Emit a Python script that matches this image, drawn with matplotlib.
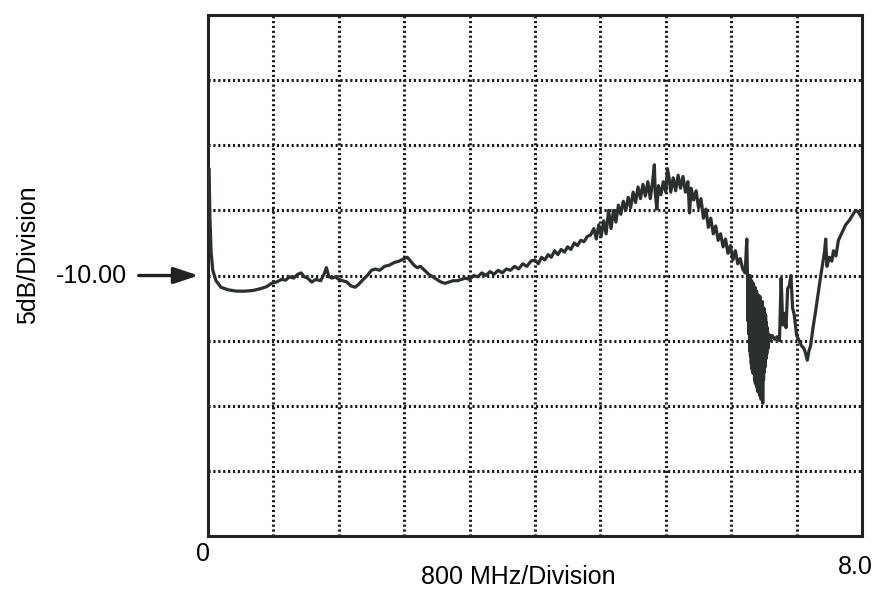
import numpy as np
import matplotlib
matplotlib.use("Agg")
import matplotlib.pyplot as plt

plt.rcParams['font.family'] = ['Liberation Sans Narrow', 'Liberation Sans', 'DejaVu Sans']

# swept response: frequency (GHz) and level (dB)
freq_ghz = [
    0.00, 0.015, 0.025, 0.04, 0.06, 0.10, 0.16, 0.25, 0.35, 0.45, 0.55, 0.65, 0.72, 0.78, 0.84,
    0.90, 0.95, 1.00, 1.05, 1.10, 1.14, 1.18, 1.22, 1.27, 1.32, 1.38, 1.42, 1.45, 1.48, 1.52,
    1.56, 1.60, 1.65, 1.70, 1.75, 1.80, 1.84, 1.90, 1.95, 2.00, 2.05, 2.10, 2.16, 2.22, 2.28,
    2.34, 2.40, 2.44, 2.48, 2.52, 2.56, 2.60, 2.65, 2.70, 2.75, 2.80, 2.85, 2.90, 2.95, 3.00,
    3.05, 3.10, 3.15, 3.20, 3.25, 3.30, 3.35, 3.40, 3.45, 3.50, 3.55, 3.60, 3.65, 3.70, 3.75,
    3.80, 3.85, 3.90, 3.95, 4.00, 4.04, 4.08, 4.12, 4.16, 4.20, 4.24, 4.28, 4.32, 4.36, 4.40,
    4.44, 4.48, 4.52, 4.56, 4.60, 4.64, 4.68, 4.72, 4.75, 4.78, 4.81, 4.84, 4.87, 4.90, 4.93,
    4.96, 4.99, 5.02, 5.05, 5.08, 5.11, 5.14, 5.17, 5.20, 5.23, 5.26, 5.29, 5.32, 5.35, 5.38,
    5.41, 5.44, 5.46, 5.47, 5.49, 5.51, 5.54, 5.57, 5.60, 5.62, 5.64, 5.66, 5.69, 5.72, 5.75,
    5.78, 5.81, 5.84, 5.87, 5.89, 5.91, 5.94, 5.97, 6.00, 6.03, 6.06, 6.09, 6.12, 6.15, 6.18,
    6.21, 6.24, 6.27, 6.30, 6.33, 6.36, 6.39, 6.42, 6.45, 6.48, 6.51, 6.54, 6.57, 6.59, 6.60,
    6.605, 6.61, 6.615, 6.62, 6.625, 6.63, 6.635, 6.64, 6.645, 6.65, 6.655, 6.66, 6.665, 6.67,
    6.675, 6.68, 6.685, 6.69, 6.695, 6.70, 6.705, 6.71, 6.715, 6.72, 6.725, 6.73, 6.735, 6.74,
    6.745, 6.75, 6.755, 6.76, 6.765, 6.77, 6.775, 6.78, 6.785, 6.79, 6.795, 6.80, 6.805, 6.81,
    6.815, 6.82, 6.825, 6.83, 6.835, 6.84, 6.85, 6.86, 6.87, 6.90, 6.93, 6.96, 6.99, 7.01,
    7.03, 7.05, 7.07, 7.09, 7.11, 7.13, 7.15, 7.17, 7.20, 7.23, 7.26, 7.29, 7.31, 7.33, 7.35,
    7.37, 7.40, 7.43, 7.46, 7.49, 7.52, 7.54, 7.555, 7.57, 7.60, 7.63, 7.65, 7.68, 7.71, 7.74,
    7.77, 7.80, 7.84, 7.88, 7.92, 7.95, 7.98, 8.00,
]
level_db = [
    -2.0, -1.8, -5.5, -8.2, -9.6, -10.4, -10.9, -11.1, -11.2, -11.2, -11.15, -11.0, -10.85, -10.6, -10.5,
    -10.3, -10.35, -10.1, -10.2, -9.9, -9.8, -10.1, -10.2, -10.5, -10.3, -10.4, -9.9, -9.4, -10.1, -10.2,
    -10.1, -10.3, -10.4, -10.5, -10.8, -10.9, -10.7, -10.3, -10.0, -9.6, -9.5, -9.6, -9.3, -9.2, -9.0,
    -8.9, -8.7, -8.6, -8.9, -9.2, -9.4, -9.3, -9.6, -9.9, -10.1, -10.3, -10.5, -10.6, -10.5, -10.4,
    -10.4, -10.3, -10.2, -10.3, -10.0, -10.1, -9.8, -10.0, -9.7, -9.9, -9.6, -9.8, -9.5, -9.6, -9.3,
    -9.5, -9.1, -9.3, -8.9, -8.8, -9.1, -8.6, -8.8, -8.4, -8.6, -8.1, -8.4, -8.0, -8.2, -7.8,
    -8.0, -7.5, -7.7, -7.3, -7.4, -7.0, -6.9, -6.4, -7.2, -6.1, -7.0, -5.8, -6.8, -5.0, -6.4,
    -5.0, -5.9, -4.6, -5.3, -4.3, -5.0, -4.0, -4.8, -3.6, -4.4, -3.2, -4.1, -3.0, -3.9, -2.8,
    -4.1, -2.7, -1.5, -3.6, -4.9, -3.1, -3.8, -2.8, -3.6, -1.8, -2.5, -3.6, -2.5, -3.5, -2.3,
    -3.3, -2.4, -3.6, -2.8, -5.2, -3.3, -4.2, -3.5, -4.8, -4.1, -5.6, -4.9, -6.3, -5.6, -6.8,
    -6.2, -7.3, -6.8, -7.8, -7.2, -8.3, -7.7, -8.8, -8.1, -9.1, -8.7, -9.5, -9.8, -7.2, -10.5,
    -13.5, -10.2, -14.5, -10.8, -15.8, -10.0, -16.2, -11.0, -16.8, -10.4, -17.2, -11.5, -17.5, -10.6,
    -17.0, -11.8, -18.0, -10.9, -18.3, -12.0, -17.6, -11.2, -18.6, -12.4, -18.9, -11.5, -18.2, -12.8,
    -19.2, -11.6, -18.8, -12.2, -19.5, -12.6, -18.4, -12.0, -19.8, -13.0, -18.0, -12.5, -17.4, -13.4,
    -17.0, -13.0, -16.4, -13.6, -16.0, -14.0, -15.6, -14.5, -15.0, -14.6, -14.9, -14.7, -15.0, -10.2,
    -13.8, -12.9, -14.0, -11.0, -10.8, -10.0, -12.5, -13.0, -14.6, -15.0, -15.4, -15.6, -16.0, -16.5, -15.8,
    -15.4, -14.0, -12.8, -11.5, -10.2, -9.0, -8.2, -7.2, -9.3, -8.6, -8.9, -8.1, -8.5, -7.3, -6.9,
    -6.5, -6.1, -5.8, -5.4, -5.0, -5.1, -5.4, -5.6,
]

ref_level = -10.0
db_per_div = 5
mhz_per_div = 800
n_xdiv, n_ydiv = 10, 8

fig = plt.figure(figsize=(8.77, 5.97), dpi=100)
ax = fig.add_axes([0.237, 0.102, 0.746, 0.873])

ytop = ref_level + db_per_div * n_ydiv / 2
ybot = ref_level - db_per_div * n_ydiv / 2
xmax = mhz_per_div * n_xdiv / 1000
ax.set_xlim(0, xmax)
ax.set_ylim(ybot, ytop)

# dotted graticule
for i in range(1, n_xdiv):
    ax.axvline(i * xmax / n_xdiv, color='#1a1a1a', lw=2.2, ls=(0, (0.7, 0.9)), zorder=1)
for j in range(1, n_ydiv):
    ax.axhline(ybot + j * db_per_div, color='#1a1a1a', lw=2.2, ls=(0, (0.7, 0.9)), zorder=1)

ax.plot(freq_ghz, level_db, color='#2b302d', lw=2.3, zorder=3)

ax.set_xticks([])
ax.set_yticks([])
for s in ax.spines.values():
    s.set_linewidth(2.2)
    s.set_color('#222222')

fs = 18
ax.text(-0.008, -0.012, '0', transform=ax.transAxes, ha='center', va='top', fontsize=fs)
ax.text(0.989, -0.036, '8.0', transform=ax.transAxes, ha='center', va='top', fontsize=fs)
ax.text(0.474, -0.055, '800 MHz/Division', transform=ax.transAxes, ha='center', va='top', fontsize=fs)
fig.text(0.032, 0.573, '5dB/Division', rotation=90, ha='center', va='center', fontsize=fs)

# reference level marker
ax.annotate('', xy=(-0.01, ref_level), xycoords=('axes fraction', 'data'),
            xytext=(-0.11, ref_level), textcoords=('axes fraction', 'data'),
            arrowprops=dict(arrowstyle='-|>,head_length=1.5,head_width=0.5', color='#222222', lw=2.4),
            annotation_clip=False)
ax.text(-0.123, ref_level, '-10.00', transform=ax.get_yaxis_transform(), ha='right', va='center', fontsize=fs)

fig.savefig('out.png', dpi=100)
